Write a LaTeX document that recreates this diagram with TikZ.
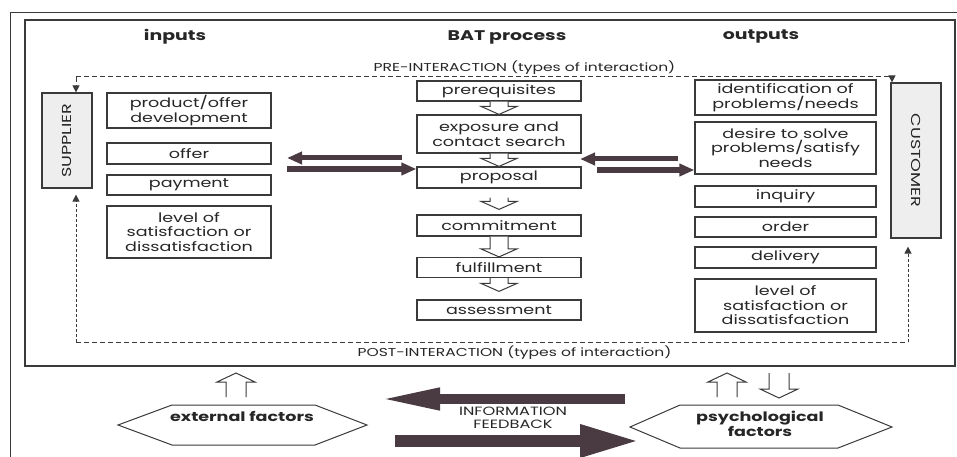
\documentclass[tikz,border=0pt]{standalone}
\usepackage{fontspec}
\setmainfont{Poppins}[FakeStretch=1.35]
\usetikzlibrary{arrows.meta,calc}
\definecolor{ink}{HTML}{3A3A3A}
\definecolor{txt}{HTML}{262626}
\definecolor{darr}{HTML}{4A3A42}
\definecolor{pane}{HTML}{EEEEEE}
\newcommand{\hollowdn}[4]{%
 \draw[hollow] let \p1=($(#1.south)+(0,#3)$), \p2=($(#2.north)+(0,-#4)$) in
 (\x1-9pt,\y1) -- (\x1-9pt,\y2+8pt) -- (\x1-18pt,\y2+8pt) -- (\x1,\y2) -- (\x1+18pt,\y2+8pt) -- (\x1+9pt,\y2+8pt) -- (\x1+9pt,\y1);}
\newcommand{\hollowup}[2]{% from coordinate #1 (tail) to #2 (tip)
 \draw[hollow] let \p1=(#1), \p2=(#2) in
 (\x1-10pt,\y1) -- (\x1-10pt,\y2-9pt) -- (\x1-19pt,\y2-9pt) -- (\x1,\y2) -- (\x1+19pt,\y2-9pt) -- (\x1+10pt,\y2-9pt) -- (\x1+10pt,\y1);}
\newcommand{\hollowdown}[2]{% from coordinate #1 (tail) to #2 (tip)
 \draw[hollow] let \p1=(#1), \p2=(#2) in
 (\x1-10pt,\y1) -- (\x1-10pt,\y2+9pt) -- (\x1-19pt,\y2+9pt) -- (\x1,\y2) -- (\x1+19pt,\y2+9pt) -- (\x1+10pt,\y2+9pt) -- (\x1+10pt,\y1);}
\begin{document}
\begin{tikzpicture}[x=1pt,y=-1pt,line join=miter,
 box/.style={draw=ink,line width=1.2pt,align=center,inner sep=0pt,text=txt,
   font=\fontsize{13}{14.5}\selectfont},
 lbox/.style={box,minimum width=164pt},
 cbox/.style={box,minimum width=164pt},
 rbox/.style={box,minimum width=181pt},
 side/.style={box,fill=pane,minimum width=50pt},
 title/.style={font=\fontsize{14}{16}\selectfont\bfseries,text=txt},
 small/.style={font=\fontsize{11.5}{13}\selectfont,text=txt,align=center},
 hollow/.style={draw=ink,line width=1pt,fill=white},
 dsh/.style={draw=ink,line width=1pt,dash pattern=on 5pt off 3pt},
 dtt/.style={draw=ink,line width=1pt,dash pattern=on 3pt off 2pt},
 arrtip/.style={-{Triangle[length=7pt,width=7pt]}},
 darrow/.style={draw=darr,line width=5pt,-{Triangle[length=15pt,width=12pt]}},
]
\useasboundingbox (0,0) rectangle (957,457);
% frames
\draw[ink,line width=1pt] (10,457) -- (10,13) -- (957,13);
\draw[ink,line width=1.2pt] (25,20) rectangle (955,366);
% titles
\node[title] (tin) at (175,37) {inputs};
\node[title] (tbat) at (507,37) {BAT process};
\node[title] (tout) at (761,37) {outputs};
% side boxes
\node[side,minimum height=95pt] (sup) at (67,140.5) {\rotatebox{90}{SUPPLIER}};
\node[side,minimum height=155pt] (cus) at (916,160.5) {\rotatebox{-90}{CUSTOMER}};
% left column
\node[lbox,minimum height=35pt] (pod) at (189,110.5) {product/offer\\development};
\node[lbox,minimum height=21pt] (off) at (189,153.5) {offer};
\node[lbox,minimum height=20pt] (pay) at (189,185) {payment};
\node[lbox,minimum height=52pt] (lvl) at (189,232) {level of\\satisfaction or\\dissatisfaction};
% centre column
\node[cbox,minimum height=20pt] (pre) at (499,91) {prerequisites};
\node[cbox,minimum height=38pt] (exp) at (499,134) {exposure and\\contact search};
\node[cbox,minimum height=21pt] (pro) at (499,177.5) {proposal};
\node[cbox,minimum height=21pt] (com) at (499,225.5) {commitment};
\node[cbox,minimum height=20pt] (ful) at (499,267.5) {fulfillment};
\node[cbox,minimum height=20pt] (ass) at (499,310) {assessment};
% right column
\node[rbox,minimum height=35pt] (idn) at (785.5,97.5) {identification of\\problems/needs};
\node[rbox,minimum height=52pt] (des) at (785.5,148) {desire to solve\\problems/satisfy\\needs};
\node[rbox,minimum height=21pt] (inq) at (785.5,196.5) {inquiry};
\node[rbox,minimum height=20pt] (ord) at (785.5,227) {order};
\node[rbox,minimum height=21pt] (del) at (785.5,257.5) {delivery};
\node[rbox,minimum height=53pt] (lvr) at (785.5,305.5) {level of\\satisfaction or\\dissatisfaction};
% hollow arrows in process
\hollowdn{pre}{exp}{0}{0}
\hollowdn{exp}{pro}{0}{0}
\hollowdn{pro}{com}{9}{5}
\hollowdn{com}{ful}{0}{0}
\hollowdn{ful}{ass}{0}{8}
% interaction loop
\node[small,anchor=south] (prei) at (524.5,78) {PRE-INTERACTION (types of interaction)};
\node[small] (posti) at (514.5,353) {POST-INTERACTION (types of interaction)};
\coordinate (tl) at (76,77);
\coordinate (tr) at (892,77);
\coordinate (bl) at (76,342);
\coordinate (br) at (908,342);
\draw[dsh] (tl) -- (tr);
\draw[dsh,arrtip] (tl) -- (tl |- sup.north);
\draw[dsh,arrtip] (tr) -- (tr |- cus.north);
\draw[dsh] (bl) -- (br);
\draw[dtt,arrtip,shorten >=6pt] (bl) -- (bl |- sup.south);
\draw[dtt,arrtip,shorten >=8pt] (br) -- (br |- cus.south);
% dark exchange arrows
\coordinate (l1s) at (402,158);
\coordinate (l1e) at (287,158);
\coordinate (l2s) at (287,169);
\draw[darrow] (l1s) -- (l1e);
\draw[darrow] (l2s) -- (l2s -| pro.west);
\coordinate (r1s) at (678,159);
\coordinate (r1e) at (580,159);
\coordinate (r2s) at (597,170);
\draw[darrow] (r1s) -- (r1e);
\draw[darrow] (r2s) -- (r2s -| des.west);
% bottom
\draw[ink,line width=1pt,fill=white] (118,425) -- (172,405) -- (315,405) -- (367,425) -- (315,445) -- (172,445) -- cycle;
\node[title,font=\fontsize{13}{14.5}\selectfont\bfseries] (ext) at (242,416) {external factors};
\draw[ink,line width=1pt,fill=white] (630,427) -- (680,405) -- (838,405) -- (892,427) -- (838,448) -- (680,448) -- cycle;
\node[title,align=center,font=\fontsize{13}{13.5}\selectfont\bfseries] (psy) at (760,423.5) {psychological\\factors};
\coordinate (ea0) at (236,397);
\coordinate (ea1) at (236,373);
\hollowup{ea0}{ea1}
\coordinate (pu0) at (727,397);
\coordinate (pu1) at (727,373);
\hollowup{pu0}{pu1}
\coordinate (pd0) at (779,373);
\coordinate (pd1) at (779,398);
\hollowdown{pd0}{pd1}
\node[small,font=\fontsize{12}{13}\selectfont] (info) at (513,417.5) {INFORMATION\\FEEDBACK};
\coordinate (b1s) at (625,399);
\coordinate (b1e) at (378,399);
\coordinate (b2s) at (395,441);
\coordinate (b2e) at (640,441);
\draw[draw=darr,line width=10pt,-{Triangle[length=62pt,width=20pt]}] (b1s) -- (b1e);
\draw[draw=darr,line width=12pt,-{Triangle[length=60pt,width=30pt]}] (b2s) -- (b2e);
\end{tikzpicture}
\end{document}
